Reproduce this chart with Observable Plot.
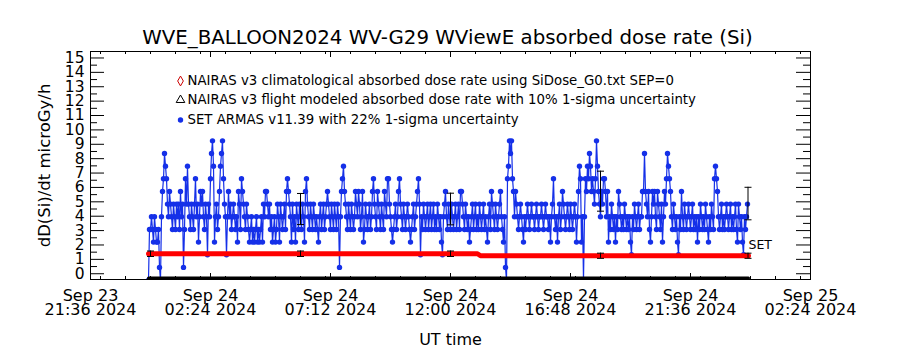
<!DOCTYPE html>
<html><head><meta charset="utf-8">
<script src="https://cdn.jsdelivr.net/npm/d3@7"></script>
<script src="https://cdn.jsdelivr.net/npm/@observablehq/plot@0.6"></script>
<style>body{margin:0;background:#fff}svg{display:block}</style>
</head><body><div id="chart"></div>
<script>
// ---------- texts ----------
const titleText = "WVE_BALLOON2024 WV-G29 WViewE absorbed dose rate (Si)";
const yLabel = "dD(Si)/dt microGy/h";
const xLabel = "UT time";
const legendLabels = [
  "NAIRAS v3 climatological absorbed dose rate using SiDose_G0.txt SEP=0",
  "NAIRAS v3 flight modeled absorbed dose rate with 10% 1-sigma uncertainty",
  "SET ARMAS v11.39 with 22% 1-sigma uncertainty"
];
const seriesTag = "SET";

// ---------- axes ----------
const xDomain = ["2024-09-23T21:36:00Z", "2024-09-25T02:24:00Z"];
const xTickTimes = ["2024-09-23T21:36:00Z","2024-09-24T02:24:00Z","2024-09-24T07:12:00Z","2024-09-24T12:00:00Z","2024-09-24T16:48:00Z","2024-09-24T21:36:00Z","2024-09-25T02:24:00Z"];
const xTickLabels = ["Sep 23\n21:36 2024","Sep 24\n02:24 2024","Sep 24\n07:12 2024","Sep 24\n12:00 2024","Sep 24\n16:48 2024","Sep 24\n21:36 2024","Sep 25\n02:24 2024"];
const xMinorStepMinutes = 72;
const yDomain = [-0.4, 15.45];
const yTickValues = [0,1,2,3,4,5,6,7,8,9,10,11,12,13,14,15];
const yMinorValues = [0.5,1.5,2.5,3.5,4.5,5.5,6.5,7.5,8.5,9.5,10.5,11.5,12.5,13.5,14.5];

// ---------- SET ARMAS measurements ----------
// quantized dose-rate levels seen in the chart (microGy/h)
const doseLevels = [-0.44, 0.44, 1.32, 2.2, 3.08, 3.96, 4.84, 5.72, 6.6, 7.48, 8.36, 9.24];
// one reading every 2.4 min, each entry is the index of its level in doseLevels
const setStart = "2024-09-23T23:55:12Z";
const setStepMinutes = 2.4;
const setLevelIndex = [
 0,4,4,5,4,3,5,4,3,3,4,1,0,5,7,8,10,9,8,6,
 5,7,6,5,4,6,5,4,6,5,6,4,7,5,6,1,4,8,6,9,
 6,5,4,6,5,4,6,8,5,6,3,5,7,6,7,5,4,6,5,2,
 6,5,8,10,11,9,3,5,6,4,5,7,9,10,11,8,6,5,2,5,
 7,5,6,4,5,6,5,4,5,3,7,6,4,8,7,6,5,4,6,5,
 4,3,4,5,3,4,3,4,5,3,4,3,4,5,3,6,5,7,7,6,
 5,6,4,5,3,4,5,3,4,6,5,3,6,5,4,5,6,4,7,8,
 7,6,5,3,6,4,5,3,6,5,4,6,5,4,6,5,3,7,8,6,
 5,4,6,5,4,6,5,4,5,4,3,5,6,4,5,6,4,5,6,7,
 6,5,4,6,5,4,6,5,4,6,5,1,5,7,8,9,7,6,5,4,
 6,5,4,6,5,4,5,7,6,5,7,6,4,5,7,3,4,6,5,4,
 5,6,4,5,7,8,6,5,4,7,6,5,4,6,5,4,7,6,5,8,
 8,6,5,4,3,4,5,6,4,5,7,8,6,5,4,6,5,4,5,6,
 5,4,3,4,5,6,4,5,6,7,8,6,2,5,4,6,5,4,5,6,
 4,5,6,4,5,6,4,5,4,6,5,4,5,3,2,5,6,7,5,4,
 6,5,4,6,5,4,5,6,4,5,6,4,7,7,6,5,4,6,5,4,
 5,3,4,5,6,4,5,6,4,5,4,6,5,4,5,6,4,5,4,3,
 5,6,4,7,6,5,4,6,5,4,5,6,7,5,4,3,5,1,0,8,
 9,11,10,11,8,7,5,7,6,5,4,5,6,5,4,3,5,4,5,6,
 5,4,5,6,5,5,4,5,6,5,4,5,5,6,5,4,5,6,5,5,
 4,5,3,5,6,8,5,4,5,3,5,6,4,5,7,6,5,4,5,6,
 5,4,6,5,4,5,6,5,3,5,7,9,8,3,5,0,5,8,7,9,
 8,10,9,7,8,7,6,8,11,9,7,6,5,7,6,8,8,7,5,7,
 3,5,4,6,5,4,5,3,5,4,7,6,5,4,5,4,6,5,4,5,
 4,5,3,2,5,4,6,5,4,5,6,4,5,5,7,7,10,7,6,5,
 7,4,3,5,7,6,7,5,4,7,6,5,4,6,3,5,7,6,8,10,
 9,8,7,5,4,6,5,4,5,3,2,5,4,7,5,4,6,5,4,5,
 6,5,4,5,6,4,5,4,5,3,5,4,6,5,4,5,4,6,5,4,
 3,5,4,6,5,4,8,9,8,7,5,4,5,6,4,5,4,5,6,5,
 4,5,6,4,5,4,5,6,4,3,6,5,4,5,3,2,5,4,5,6
];

// ---------- NAIRAS model curves ----------
const climTimes = ["2024-09-23T23:55:12Z","2024-09-24T13:04:48Z","2024-09-24T13:12:00Z","2024-09-24T23:55:12Z"];
const climValues = [1.39,1.39,1.25,1.25];
const flightTimes = ["2024-09-23T23:55:12Z","2024-09-24T23:55:12Z"];
const flightValues = [-0.3,-0.3];

// ---------- uncertainty bars ----------
const errTimes = ["2024-09-24T00:00:00Z","2024-09-24T06:00:00Z","2024-09-24T12:00:00Z","2024-09-24T18:00:00Z","2024-09-24T23:54:00Z"];
const modelErrLow  = [1.2,1.2,1.2,1.07,1.07];
const modelErrHigh = [1.58,1.58,1.58,1.43,1.43];
const setErrTimes = ["2024-09-24T06:00:00Z","2024-09-24T12:00:00Z","2024-09-24T18:00:00Z","2024-09-24T23:54:00Z"];
const setErrLow  = [3.42,3.4,4.35,3.75];
const setErrHigh = [5.58,5.6,7.13,6.01];
const tagValue = 1.97;

// ---------- build ----------
const BLUE = "#1530e8", RED = "#ff0000";
const FONT = "DejaVu Sans";
const W = 900, H = 350, mL = 90, mR = 90, mT = 51, mB = 71;
const fw = W - mL - mR, fh = H - mT - mB;
const dt = s => new Date(s);
const t0 = dt(setStart).getTime();
const setData = setLevelIndex.map((k, i) => ({t: new Date(t0 + i * setStepMinutes * 60000), v: doseLevels[k]}));
const climData = climTimes.map((t, i) => ({t: dt(t), v: climValues[i]}));
const flightData = flightTimes.map((t, i) => ({t: dt(t), v: flightValues[i]}));
const modelErr = errTimes.map((t, i) => ({t: dt(t), lo: modelErrLow[i], hi: modelErrHigh[i]}));
const setErr = setErrTimes.map((t, i) => ({t: dt(t), lo: setErrLow[i], hi: setErrHigh[i]}));
const majors = xTickTimes.map(dt);
const minors = d3.utcMinute.every(xMinorStepMinutes).range(dt(xDomain[0]), new Date(dt(xDomain[1]).getTime() + 1))
  .filter(d => !majors.some(m => +m === +d));
const capSymbol = {draw(ctx, size) { const r = Math.sqrt(size / Math.PI); ctx.moveTo(-r, 0); ctx.lineTo(r, 0); }};
const capsOf = arr => arr.flatMap(d => [{t: d.t, v: d.lo}, {t: d.t, v: d.hi}]);

const chart = Plot.plot({
  width: W, height: H,
  marginLeft: mL, marginRight: mR, marginTop: mT, marginBottom: mB,
  style: {fontFamily: FONT, background: "white", color: "black"},
  x: {type: "utc", domain: xDomain.map(dt), axis: null},
  y: {domain: yDomain, axis: null},
  marks: [
    // SET ARMAS
    Plot.line(setData, {x: "t", y: "v", stroke: BLUE, strokeWidth: 1.2, clip: true}),
    Plot.dot(setData, {x: "t", y: "v", fill: BLUE, r: 2.7, clip: true}),
    // NAIRAS curves
    Plot.line(climData, {x: "t", y: "v", stroke: RED, strokeWidth: 5, clip: true}),
    Plot.line(flightData, {x: "t", y: "v", stroke: "black", strokeWidth: 3, clip: true}),
    // uncertainty bars
    Plot.ruleX(setErr, {x: "t", y1: "lo", y2: "hi", stroke: "black", strokeWidth: 1}),
    Plot.dot(capsOf(setErr), {x: "t", y: "v", symbol: capSymbol, r: 3.5, stroke: "black", strokeWidth: 1}),
    Plot.ruleX(modelErr, {x: "t", y1: "lo", y2: "hi", stroke: "black", strokeWidth: 1}),
    Plot.dot(capsOf(modelErr), {x: "t", y: "v", symbol: capSymbol, r: 3.5, stroke: "black", strokeWidth: 1}),
    Plot.text([seriesTag], {x: climData[climData.length - 1].t, y: tagValue, textAnchor: "start", fontSize: 12.5, lineAnchor: "middle"}),
    // frame + ticks
    Plot.frame({stroke: "black", strokeWidth: 1}),
    Plot.tickX(majors, {x: d => d, insetTop: fh - 6, stroke: "black"}),
    Plot.tickX(majors, {x: d => d, insetBottom: fh - 6, stroke: "black"}),
    Plot.tickX(minors, {x: d => d, insetTop: fh - 3, stroke: "black"}),
    Plot.tickX(minors, {x: d => d, insetBottom: fh - 3, stroke: "black"}),
    Plot.tickY(yTickValues, {y: d => d, insetRight: fw - 14, stroke: "black"}),
    Plot.tickY(yTickValues, {y: d => d, insetLeft: fw - 14, stroke: "black"}),
    Plot.tickY(yMinorValues, {y: d => d, insetRight: fw - 7, stroke: "black"}),
    Plot.tickY(yMinorValues, {y: d => d, insetLeft: fw - 7, stroke: "black"}),
    // tick labels
    Plot.text(yTickValues, {y: d => d, text: d => String(d), frameAnchor: "left", textAnchor: "end", dx: -6, lineAnchor: "middle", fontSize: 15.5}),
    Plot.text(majors, {x: d => d, text: (d, i) => xTickLabels[i], frameAnchor: "bottom", lineAnchor: "top", dy: 11.3, lineHeight: 0.9, fontSize: 16}),
    // axis titles
    Plot.text([xLabel], {frameAnchor: "bottom", dy: 60, lineAnchor: "middle", fontSize: 16}),
    Plot.text([yLabel], {frameAnchor: "left", dx: -46, rotate: -90, textAnchor: "middle", lineAnchor: "middle", fontSize: 16.5}),
    Plot.text([titleText], {frameAnchor: "top", dy: -14, dx: -3, lineAnchor: "middle", fontSize: 19.8}),
    // legend
    Plot.dot([0], {frameAnchor: "top-left", dx: 90, dy: 29.5, symbol: "diamond", r: 3, stroke: "#cc0000", fill: "none", strokeWidth: 1}),
    Plot.dot([0], {frameAnchor: "top-left", dx: 90, dy: 48.5, symbol: "triangle", r: 3.2, stroke: "black", fill: "none", strokeWidth: 1}),
    Plot.dot([0], {frameAnchor: "top-left", dx: 90, dy: 68.5, r: 2.7, fill: BLUE}),
    Plot.text([legendLabels[0]], {frameAnchor: "top-left", dx: 97, dy: 29.5, textAnchor: "start", lineAnchor: "middle", fontSize: 13.3}),
    Plot.text([legendLabels[1]], {frameAnchor: "top-left", dx: 97, dy: 48.5, textAnchor: "start", lineAnchor: "middle", fontSize: 13.3}),
    Plot.text([legendLabels[2]], {frameAnchor: "top-left", dx: 97, dy: 68.5, textAnchor: "start", lineAnchor: "middle", fontSize: 13.3})
  ]
});
document.getElementById("chart").appendChild(chart);
</script>
</body></html>
